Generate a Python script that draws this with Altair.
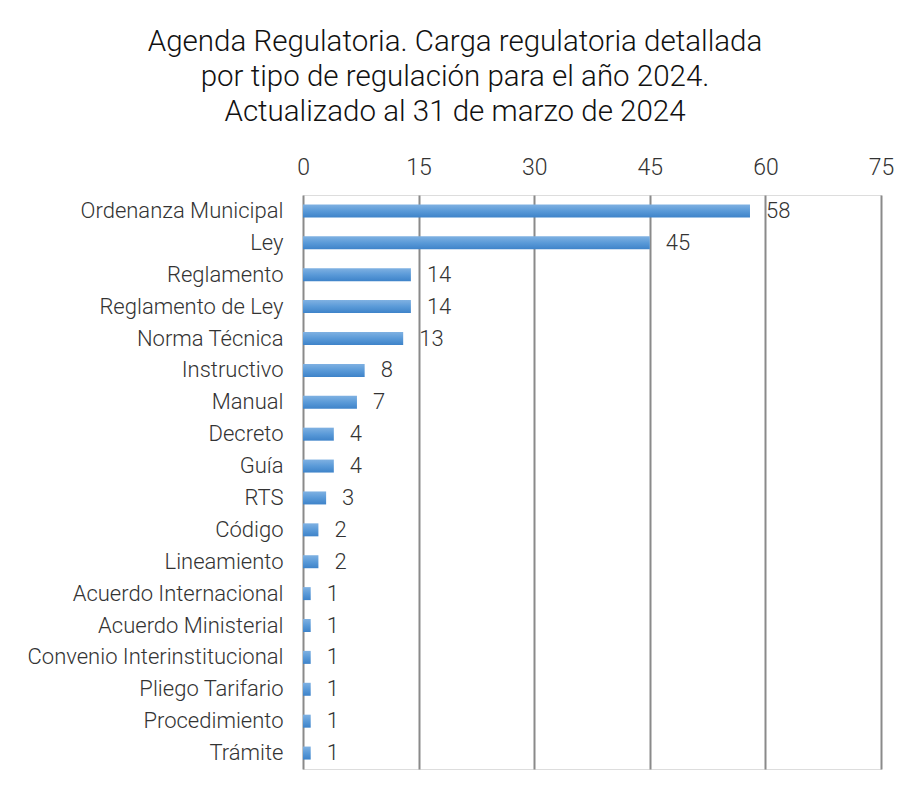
import altair as alt
import pandas as pd

categories = ["Ordenanza Municipal", "Ley", "Reglamento", "Reglamento de Ley",
              "Norma Técnica", "Instructivo", "Manual ", "Decreto", "Guía", "RTS",
              "Código", "Lineamiento", "Acuerdo Internacional", "Acuerdo Ministerial",
              "Convenio Interinstitucional", "Pliego Tarifario", "Procedimiento", "Trámite"]
values = [58, 45, 14, 14, 13, 8, 7, 4, 4, 3, 2, 2, 1, 1, 1, 1, 1, 1]
x_ticks = [0, 15, 30, 45, 60, 75]

title_lines = ["Agenda Regulatoria. Carga regulatoria detallada",
               "por tipo de regulación para el año 2024.",
               "Actualizado al 31 de marzo de 2024"]

df = pd.DataFrame({"tipo": categories, "valor": values})

FONT = "Roboto"

gradient = alt.Gradient(
    gradient="linear",
    stops=[alt.GradientStop(color="#7fb1e2", offset=0),
           alt.GradientStop(color="#5a9ad8", offset=0.5),
           alt.GradientStop(color="#3e83c9", offset=1)],
    x1=0, x2=0, y1=0, y2=1,
)

y_enc = alt.Y("tipo:N", sort=categories, title=None,
              scale=alt.Scale(paddingInner=0.0, paddingOuter=0.0),
              axis=alt.Axis(labelFont=FONT, labelFontSize=22, labelFontWeight=300,
                            labelColor="#333333", labelPadding=20, labelLimit=400,
                            ticks=False, domain=False, grid=False))
x_enc = alt.X("valor:Q", title=None,
              scale=alt.Scale(domain=[0, 75], nice=False),
              axis=alt.Axis(orient="top", values=x_ticks, labelFont=FONT,
                            labelFontSize=23, labelFontWeight=300, labelColor="#333333",
                            labelPadding=16, labelFlush=False, ticks=False, domain=False,
                            grid=True, gridColor="#8a8a8a", gridWidth=2))

bars = alt.Chart(df).mark_bar(size=13, color=gradient).encode(x=x_enc, y=y_enc)
labels = alt.Chart(df).mark_text(align="left", baseline="middle", dx=16,
                                 font=FONT, fontSize=22, fontWeight=300,
                                 color="#333333").encode(
    x="valor:Q", y=alt.Y("tipo:N", sort=categories), text="valor:Q")

chart = alt.layer(bars, labels).properties(
    width=578, height=574,
    padding={"left": 295, "top": 187, "right": 20, "bottom": 15},
    autosize=alt.AutoSizeParams(type="none"),
    title=alt.TitleParams(text=title_lines, font=FONT, fontSize=29.5,
                          fontWeight=300, color="#111111", anchor="middle",
                          frame="group", dx=-137, offset=29, lineHeight=35),
).configure_view(stroke=None).configure(background="white")

chart.save("out.html", embed_options={"renderer": "svg", "actions": False})
